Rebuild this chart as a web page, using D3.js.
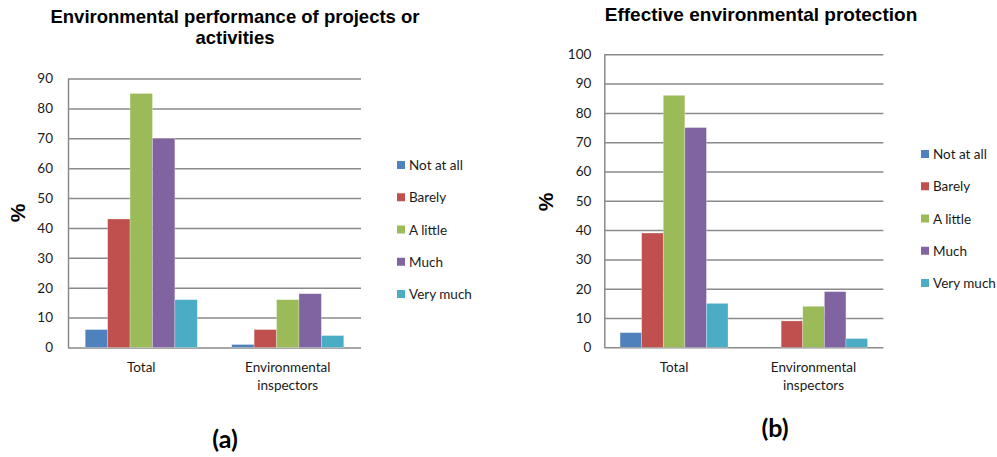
<!DOCTYPE html>
<html>
<head>
<meta charset="utf-8">
<script src="https://cdn.jsdelivr.net/npm/d3@7/dist/d3.min.js"></script>
<style>
  html, body { margin: 0; padding: 0; background: #fff; }
  svg { display: block; }
</style>
</head>
<body>
<svg id="chart" width="997" height="457"></svg>
<script>
// ---- data ----
const categories = ["Total", "Environmental inspectors"];
const seriesNames = ["Not at all", "Barely", "A little", "Much", "Very much"];
const seriesColors = ["#4F81BD", "#C0504D", "#9BBB59", "#8064A2", "#4BACC6"];

// chart (a): Environmental performance of projects or activities
const valuesA_total = [6, 43, 85, 70, 16];
const valuesA_inspectors = [1, 6, 16, 18, 4];
const ticksA = [0, 10, 20, 30, 40, 50, 60, 70, 80, 90];

// chart (b): Effective environmental protection
const valuesB_total = [5, 39, 86, 75, 15];
const valuesB_inspectors = [0, 9, 14, 19, 3];
const ticksB = [0, 10, 20, 30, 40, 50, 60, 70, 80, 90, 100];

const svg = d3.select("#chart");
const labelFont = "Lato, 'Open Sans', sans-serif";
const titleFont = "'Liberation Sans', Arial, Helvetica, sans-serif";

function drawChart(cfg) {
  const g = svg.append("g");
  const data = [cfg.total, cfg.inspectors];

  const x = d3.scaleBand().domain(categories)
    .range([cfg.x0, cfg.x1]).paddingInner(cfg.pad).paddingOuter(cfg.pad / 2);
  const xs = d3.scaleBand().domain(seriesNames).range([0, x.bandwidth()]);
  const y = d3.scaleLinear().domain([0, cfg.max]).range([cfg.y0, cfg.y1]);

  // y axis with gridlines
  const axis = d3.axisLeft(y).tickValues(cfg.ticks).tickFormat(d3.format("d"))
    .tickSizeInner(-(cfg.x1 - cfg.x0)).tickSizeOuter(0).tickPadding(cfg.tickPad);
  const ag = g.append("g").attr("transform", `translate(${cfg.x0},0)`).call(axis);
  ag.select(".domain").attr("stroke", "#8a8a8a").attr("stroke-width", 1.5);
  ag.selectAll(".tick line").attr("stroke", "#8a8a8a").attr("stroke-width", 1.5);
  ag.selectAll(".tick text").attr("fill", "#1a1a1a")
    .style("font-family", labelFont).style("font-size", "13.5px");

  // bars
  categories.forEach((c, ci) => {
    const cg = g.append("g").attr("transform", `translate(${x(c)},0)`);
    cg.selectAll("rect").data(data[ci]).join("rect")
      .attr("x", (d, i) => xs(seriesNames[i]))
      .attr("width", xs.bandwidth())
      .attr("y", d => y(d))
      .attr("height", d => cfg.y0 - y(d))
      .attr("fill", (d, i) => seriesColors[i])
      .attr("stroke", "rgba(255,255,255,0.45)")
      .attr("stroke-width", 0.6);
  });

  // category labels
  const catLines = [["Total"], ["Environmental", "inspectors"]];
  categories.forEach((c, ci) => {
    const t = g.append("text")
      .attr("x", x(c) + x.bandwidth() / 2)
      .attr("y", cfg.catY)
      .attr("text-anchor", "middle")
      .attr("fill", "#1a1a1a")
      .style("font-family", labelFont).style("font-size", "13.5px");
    catLines[ci].forEach((ln, li) => {
      t.append("tspan").attr("x", x(c) + x.bandwidth() / 2)
        .attr("dy", li === 0 ? 0 : 18).text(ln);
    });
  });

  // y axis title
  g.append("text")
    .attr("transform", `translate(${cfg.pctX},${cfg.pctY}) rotate(-90)`)
    .attr("text-anchor", "middle")
    .style("font-family", titleFont).style("font-weight", "bold").style("font-size", "21px")
    .text("%");

  // title
  const tt = g.append("text")
    .attr("x", cfg.titleX).attr("y", cfg.titleY)
    .attr("text-anchor", "middle")
    .style("font-family", titleFont).style("font-weight", "bold").style("font-size", cfg.titleSize);
  cfg.title.forEach((ln, li) => {
    tt.append("tspan").attr("x", cfg.titleX).attr("dy", li === 0 ? 0 : 21).text(ln);
  });

  // legend
  const lg = g.append("g");
  seriesNames.forEach((s, i) => {
    const cy = cfg.legY + i * 32.25;
    lg.append("rect").attr("x", cfg.legX).attr("y", cy - 4).attr("width", 8).attr("height", 8)
      .attr("fill", seriesColors[i]);
    lg.append("text").attr("x", cfg.legX + 12).attr("y", cy + 5)
      .attr("fill", "#1a1a1a")
      .style("font-family", labelFont).style("font-size", "13.5px").text(s);
  });

  // panel label
  g.append("text").attr("x", cfg.panelX).attr("y", cfg.panelY)
    .attr("text-anchor", "middle")
    .style("font-family", labelFont).style("font-weight", "bold").style("font-size", "25px")
    .text(cfg.panel);
}

drawChart({
  total: valuesA_total, inspectors: valuesA_inspectors, ticks: ticksA, max: 90,
  x0: 68, x1: 361, y0: 347.5, y1: 78.5, pad: 0.235, tickPad: 15,
  catY: 372, pctX: 25, pctY: 213,
  title: ["Environmental performance of projects or", "activities"], titleX: 235, titleY: 23,
  titleSize: "18.5px",
  legX: 397, legY: 165, panel: "(a)", panelX: 225, panelY: 448
});

drawChart({
  total: valuesB_total, inspectors: valuesB_inspectors, ticks: ticksB, max: 100,
  x0: 604.3, x1: 883.3, y0: 347.3, y1: 54.3, pad: 0.226, tickPad: 13,
  catY: 372, pctX: 553, pctY: 202,
  title: ["Effective environmental protection"], titleX: 761, titleY: 21,
  titleSize: "19px",
  legX: 921, legY: 154, panel: "(b)", panelX: 775, panelY: 437
});
</script>
</body>
</html>
